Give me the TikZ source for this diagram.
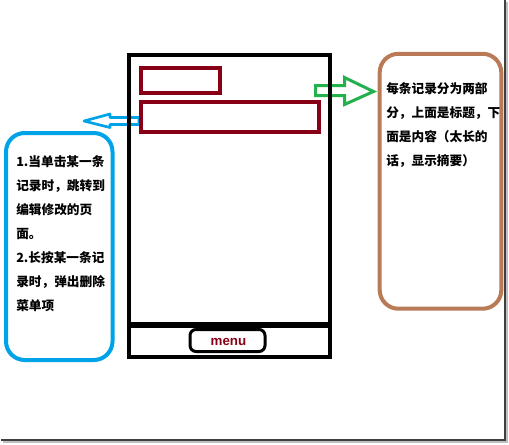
\documentclass[tikz,border=0pt]{standalone}
\usepackage{fontspec}
\usepackage{tikz}
\newfontfamily\cjkfont{Noto Sans CJK SC}
\newfontfamily\menufont{Liberation Sans}
\definecolor{recred}{RGB}{136,0,21}
\definecolor{tipblue}{RGB}{0,162,232}
\definecolor{tipbrown}{RGB}{185,122,87}
\definecolor{tipgreen}{RGB}{34,177,76}

\begin{document}
\begin{tikzpicture}[x=0.75pt,y=0.75pt,yscale=-1,xscale=1,
  tiptext/.style={font=\cjkfont\bfseries\fontsize{9.5}{18}\selectfont, align=left, anchor=north west, inner sep=0pt}]
\useasboundingbox (0,0) rectangle (509,444);

%Shape: Frame shadow
\draw [color=black!25, line width=1.8pt]  (3,442) -- (507,442) -- (507,2) ;
\draw [color=black!75, line width=0.8pt]  (1,440) -- (505,440) -- (505,0) ;

%Shape: Left Arrow
\draw [color=tipblue, fill=white, line width=2pt, line join=round]  (139,117.5) -- (110,117.5) -- (110,114) -- (84,121) -- (110,127.5) -- (110,124.5) -- (139,124.5) -- cycle ;

%Shape: Right Arrow
\draw [color=tipgreen, fill=white, line width=2.25pt]  (315.5,85.5) -- (344.5,85.5) -- (344.5,77.5) -- (373.5,91.5) -- (344.5,104.5) -- (344.5,95.5) -- (315.5,95.5) -- cycle ;

%Shape: Phone
\draw [line width=3pt]  (129,54.5) rectangle (329.7,356.5) ;
%Straight Lines
\draw [line width=4.5pt]  (129,324.5) -- (329.7,324.5) ;

%Shape: Menu Button
\draw [line width=2.25pt, rounded corners=4.5pt, fill=white]  (190,329.5) rectangle (265,351.5) ;

%Shape: Title Rectangle
\draw [color=recred, line width=3pt]  (140.5,67.5) rectangle (219.7,93) ;
%Shape: Content Rectangle
\draw [color=recred, line width=3pt]  (141.3,102) rectangle (319,132.3) ;

%Shape: Rounded Rectangle
\draw [color=tipblue, line width=3pt, rounded corners=14pt]  (6,133) rectangle (112.5,360) ;
%Shape: Rounded Rectangle
\draw [color=tipbrown, line width=3pt, rounded corners=14pt]  (379.7,53.8) rectangle (501.3,308.7) ;

% Text Node
\node [font=\menufont\bfseries\fontsize{10}{12}\selectfont, text=recred] (menu) at (228.5,341.5) {menu};
% Text Node
\node [tiptext] (clicktip) at (16,155.5) {1.当单击某一条\\记录时，跳转到\\编辑修改的页\\面。\\2.长按某一条记\\录时，弹出删除\\菜单项};
% Text Node
\node [tiptext] (recordtip) at (386,82.5) {每条记录分为两部\\分，上面是标题，下\\面是内容（太长的\\话，显示摘要）};
\end{tikzpicture}
\end{document}
